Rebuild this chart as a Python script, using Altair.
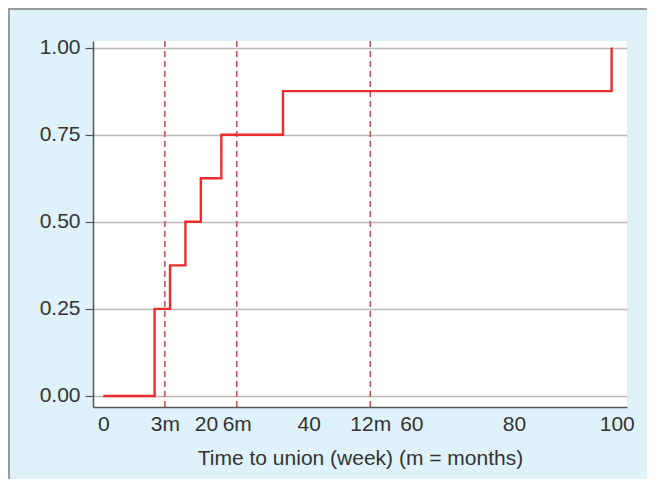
import altair as alt
import pandas as pd

# Step curve: cumulative proportion of union by week
weeks = [0, 10, 13, 16, 19, 23, 35, 99]
proportion = [0.0, 0.25, 0.375, 0.5, 0.625, 0.75, 0.875, 1.0]

# Reference lines (weeks) for 3, 6 and 12 months
ref_weeks = [12, 26, 52]
ref_names = ["3m", "6m", "12m"]

# X-axis ticks and labels
x_tick_values = [0, 12, 20, 26, 40, 52, 60, 80, 100]
x_tick_labels = ["0", "3m", "20", "6m", "40", "12m", "60", "80", "100"]
y_tick_values = [0.0, 0.25, 0.5, 0.75, 1.0]

FONT = "Liberation Sans, Arial, Helvetica, sans-serif"
BG = "#dff2fa"
W, H = 534, 366
PAD_L, PAD_T, PAD_R, PAD_B = 85, 33, 20, 72

curve = pd.DataFrame({"week": weeks, "prop": proportion})
refs = pd.DataFrame({"week": ref_weeks, "name": ref_names})
one = pd.DataFrame({"a": [0]})

label_expr = ""
for v, l in zip(x_tick_values, x_tick_labels):
    label_expr += f"datum.value == {v} ? '{l}' : "
label_expr += "datum.label"

xscale = alt.Scale(domain=[-2, 102], nice=False, zero=False)
yscale = alt.Scale(domain=[-0.0316, 1.019], nice=False, zero=False)

xaxis = alt.Axis(
    values=x_tick_values,
    labelExpr=label_expr,
    title="Time to union (week) (m = months)",
    grid=False,
    ticks=False,
    tickSize=0,
    labelPadding=6,
    labelOverlap=False,
    labelFlush=False,
    titlePadding=13,
)
yaxis = alt.Axis(
    values=y_tick_values,
    format=".2f",
    title=None,
    grid=True,
    gridColor="#b9b9b9",
    gridWidth=1.5,
    ticks=True,
    tickSize=8,
    tickColor="#555555",
    tickWidth=1.2,
    labelPadding=5,
    labelFlush=False,
    labelOverlap=False,
)

step = alt.Chart(curve).mark_line(
    interpolate="step-after", color="#ee2b2b", strokeWidth=2.4
).encode(
    x=alt.X("week:Q", scale=xscale, axis=xaxis),
    y=alt.Y("prop:Q", scale=yscale, axis=yaxis),
)

dashes = alt.Chart(refs).mark_rule(
    color="#bf5560", strokeDash=[6, 4], strokeWidth=1.6
).encode(x=alt.X("week:Q", scale=xscale))

border_left = alt.Chart(one).mark_rule(color="#9a9a9a", strokeWidth=2).encode(
    x=alt.value(-PAD_L + 1), y=alt.value(-PAD_T), y2=alt.value(H + PAD_B)
)
border_top = alt.Chart(one).mark_rule(color="#9a9a9a", strokeWidth=2).encode(
    y=alt.value(-PAD_T + 1), x=alt.value(-PAD_L), x2=alt.value(W + PAD_R)
)

chart = alt.layer(border_left, border_top, dashes, step).properties(
    width=W,
    height=H,
    background=BG,
    padding={"left": PAD_L, "top": PAD_T, "right": PAD_R, "bottom": PAD_B},
    autosize=alt.AutoSizeParams(type="none"),
).configure_view(
    stroke=None, fill="white"
).configure_axis(
    labelFont=FONT,
    labelFontSize=21,
    labelColor="#333333",
    titleFont=FONT,
    titleFontSize=21,
    titleFontWeight="normal",
    titleColor="#333333",
    domainColor="#555555",
    domainWidth=1.5,
)

chart.save("out.html", embed_options={"renderer": "svg", "actions": False})
